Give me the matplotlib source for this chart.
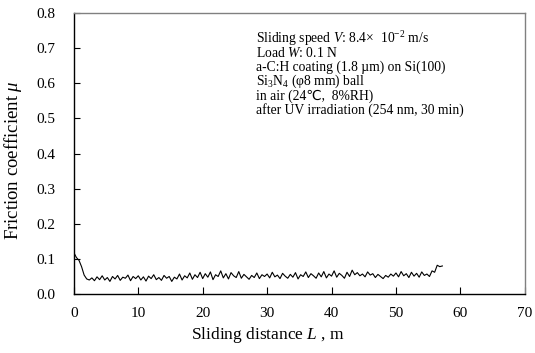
import numpy as np
import matplotlib
matplotlib.use("Agg")
import matplotlib.pyplot as plt

plt.rcParams['font.family'] = ['Liberation Serif', 'DejaVu Sans']
plt.rcParams['mathtext.fontset'] = 'custom'
plt.rcParams['mathtext.rm'] = 'Liberation Serif'
plt.rcParams['mathtext.it'] = 'Liberation Serif:italic'

# friction coefficient, one value every 0.4 m
step = 0.4
mu_0_10 = [0.118, 0.104, 0.096, 0.078, 0.054, 0.043, 0.040, 0.046, 0.038, 0.049,
           0.041, 0.052, 0.040, 0.047, 0.036, 0.050, 0.043, 0.053, 0.039, 0.048,
           0.045, 0.054, 0.038, 0.050, 0.044]
mu_10_20 = [0.052, 0.040, 0.049, 0.037, 0.051, 0.044, 0.055, 0.041, 0.047, 0.039,
            0.053, 0.045, 0.050, 0.036, 0.048, 0.043, 0.057, 0.040, 0.052, 0.046,
            0.060, 0.042, 0.055, 0.047, 0.062]
mu_20_30 = [0.044, 0.058, 0.048, 0.063, 0.041, 0.055, 0.050, 0.066, 0.046, 0.058,
            0.043, 0.061, 0.052, 0.047, 0.064, 0.045, 0.056, 0.049, 0.042, 0.053,
            0.047, 0.060, 0.044, 0.055, 0.050]
mu_30_40 = [0.057, 0.046, 0.062, 0.049, 0.054, 0.044, 0.059, 0.051, 0.045, 0.056,
            0.048, 0.061, 0.043, 0.055, 0.050, 0.063, 0.047, 0.058, 0.052, 0.045,
            0.060, 0.049, 0.064, 0.046, 0.057]
mu_40_50 = [0.051, 0.066, 0.048, 0.059, 0.053, 0.045, 0.062, 0.050, 0.068, 0.055,
            0.061, 0.052, 0.057, 0.049, 0.063, 0.054, 0.058, 0.047, 0.056, 0.050,
            0.044, 0.053, 0.048, 0.057, 0.051]
mu_50_end = [0.060, 0.049, 0.064, 0.052, 0.058, 0.047, 0.062, 0.051, 0.059, 0.048,
             0.063, 0.053, 0.057, 0.050, 0.066, 0.062, 0.082, 0.078, 0.080]

mu = mu_0_10 + mu_10_20 + mu_20_30 + mu_30_40 + mu_40_50 + mu_50_end
dist = np.arange(len(mu)) * step

x_ticks = [0, 10, 20, 30, 40, 50, 60, 70]
y_ticks = [0.0, 0.1, 0.2, 0.3, 0.4, 0.5, 0.6, 0.7, 0.8]

notes = [
    "Sliding speed $V$: 8.4\u00d7  $10^{-2}$ m/s",
    "Load $W$: 0.1 N",
    "a-C:H coating (1.8 \u00b5m) on Si(100)",
    "Si$_3$N$_4$ (\u03c68 mm) ball",
    "in air (24\u2103,  8%RH)",
    "after UV irradiation (254 nm, 30 min)",
]

fig = plt.figure(figsize=(5.35, 3.53), dpi=100)
ax = fig.add_axes([0.138, 0.167, 0.843, 0.796])

ax.plot(dist, mu, color='black', lw=0.8)

ax.set_xlim(0, 70)
ax.set_ylim(0, 0.8)
ax.set_xticks(x_ticks)
ax.set_yticks(y_ticks)
ax.set_yticklabels([f"{v:.1f}" for v in y_ticks])
ax.tick_params(axis='both', direction='in', labelsize=11, color='black')
ax.tick_params(axis='x', length=5, pad=9)
ax.tick_params(axis='y', length=4, pad=13)

for s in ['top', 'right']:
    ax.spines[s].set_color('#808080')
for s in ['left', 'bottom']:
    ax.spines[s].set_color('black')
for s in ax.spines.values():
    s.set_linewidth(1.0)

ax.set_xlabel("Sliding distance $L$ , m", fontsize=12.5)
ax.set_ylabel("Friction coefficient $\\mu$", fontsize=13.5)
ax.xaxis.set_label_coords(0.43, -0.11)
ax.yaxis.set_label_coords(-0.11, 0.477)

y0 = 0.716
for i, line in enumerate(notes):
    ax.text(28.3, y0 - i * 0.0405, line, fontsize=9.8, va='baseline', ha='left')

fig.savefig("out.png", dpi=100)
